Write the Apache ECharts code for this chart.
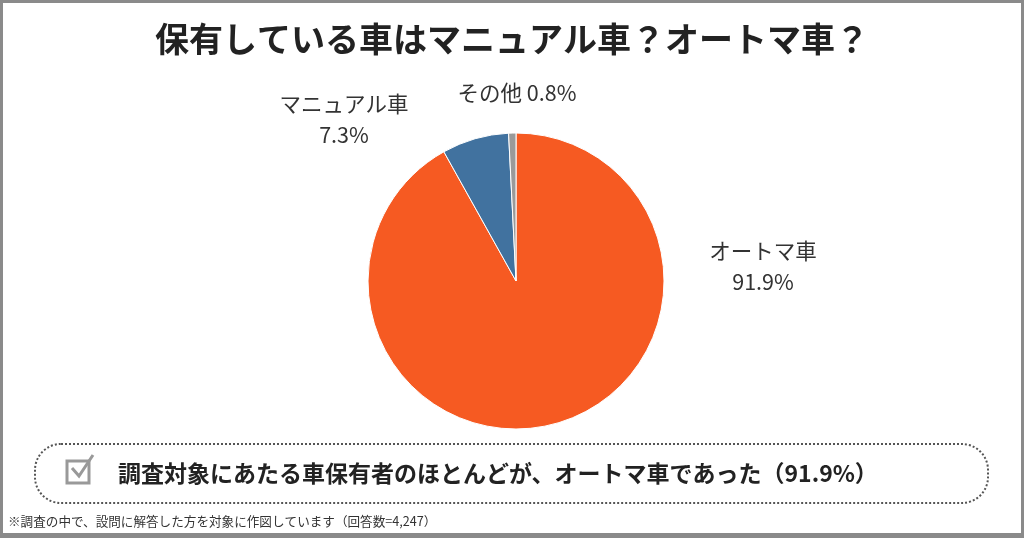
<!DOCTYPE html>
<html><head><meta charset="utf-8">
<script src="https://cdn.jsdelivr.net/npm/echarts@6/dist/echarts.min.js"></script>
<style>html,body{margin:0;padding:0;background:#fff}#c{width:1024px;height:538px}</style>
</head><body><div id="c"></div>
<script>
const titleText = '保有している車はマニュアル車？オートマ車？';
const categories = ['オートマ車', 'マニュアル車', 'その他'];
const values = [91.9, 7.3, 0.8];
const colors = ['#F65A22', '#41729F', '#9A9A9A'];
const summaryText = '調査対象にあたる車保有者のほとんどが、オートマ車であった（91.9%）';
const noteText = '※調査の中で、設問に解答した方を対象に作図しています（回答数=4,247）';

const labelPos = [[763, 266], [344, 119], [517, 93]];
const FONT = '"Noto Sans CJK JP", "Noto Sans", sans-serif';

const chart = echarts.init(document.getElementById('c'), null, {renderer: 'canvas'});
chart.setOption({
  backgroundColor: '#fff',
  animation: false,
  title: {
    text: titleText, left: 'center', top: 17,
    textStyle: {fontFamily: FONT, fontSize: 34, fontWeight: 'bold', color: '#222'}
  },
  graphic: [
    {type: 'rect', shape: {x: 1.5, y: 1.5, width: 1021, height: 533}, style: {fill: 'none', stroke: '#8a8a8a', lineWidth: 3}, silent: true},
    {type: 'rect', shape: {x: 0, y: 533, width: 1024, height: 5}, style: {fill: '#8a8a8a'}, silent: true},
    {type: 'rect', shape: {x: 35, y: 444, width: 953, height: 59, r: 26}, style: {fill: 'none', stroke: '#555', lineWidth: 2, lineDash: [2, 2]}, silent: true},
    {type: 'rect', shape: {x: 67, y: 461, width: 22, height: 22}, style: {fill: 'none', stroke: '#999', lineWidth: 3}, silent: true},
    {type: 'polyline', shape: {points: [[72, 468], [79, 476], [93, 455]]}, style: {fill: 'none', stroke: '#999', lineWidth: 3}, silent: true},
    {type: 'text', x: 118, y: 473, style: {text: summaryText, font: 'bold 23px ' + FONT, fill: '#222', textVerticalAlign: 'middle', textAlign: 'left'}, silent: true},
    {type: 'text', x: 8, y: 521, style: {text: noteText, font: '12.6px ' + FONT, fill: '#333', textVerticalAlign: 'middle', textAlign: 'left'}, silent: true}
  ],
  series: [{
    type: 'pie',
    center: [516, 281],
    radius: [0, 148],
    startAngle: 90,
    clockwise: true,
    avoidLabelOverlap: false,
    itemStyle: {borderColor: '#fff', borderWidth: 1},
    label: {
      show: true, position: 'outside',
      fontFamily: FONT, fontSize: 21.5, color: '#333', lineHeight: 31, align: 'center',
      formatter: p => p.dataIndex === 2 ? p.name + ' ' + p.value + '%' : p.name + '\n' + p.value + '%'
    },
    labelLine: {show: false},
    labelLayout: p => ({x: labelPos[p.dataIndex][0], y: labelPos[p.dataIndex][1], align: 'center', verticalAlign: 'middle'}),
    data: categories.map((c, i) => ({name: c, value: values[i], itemStyle: {color: colors[i]}}))
  }]
});
</script></body></html>
